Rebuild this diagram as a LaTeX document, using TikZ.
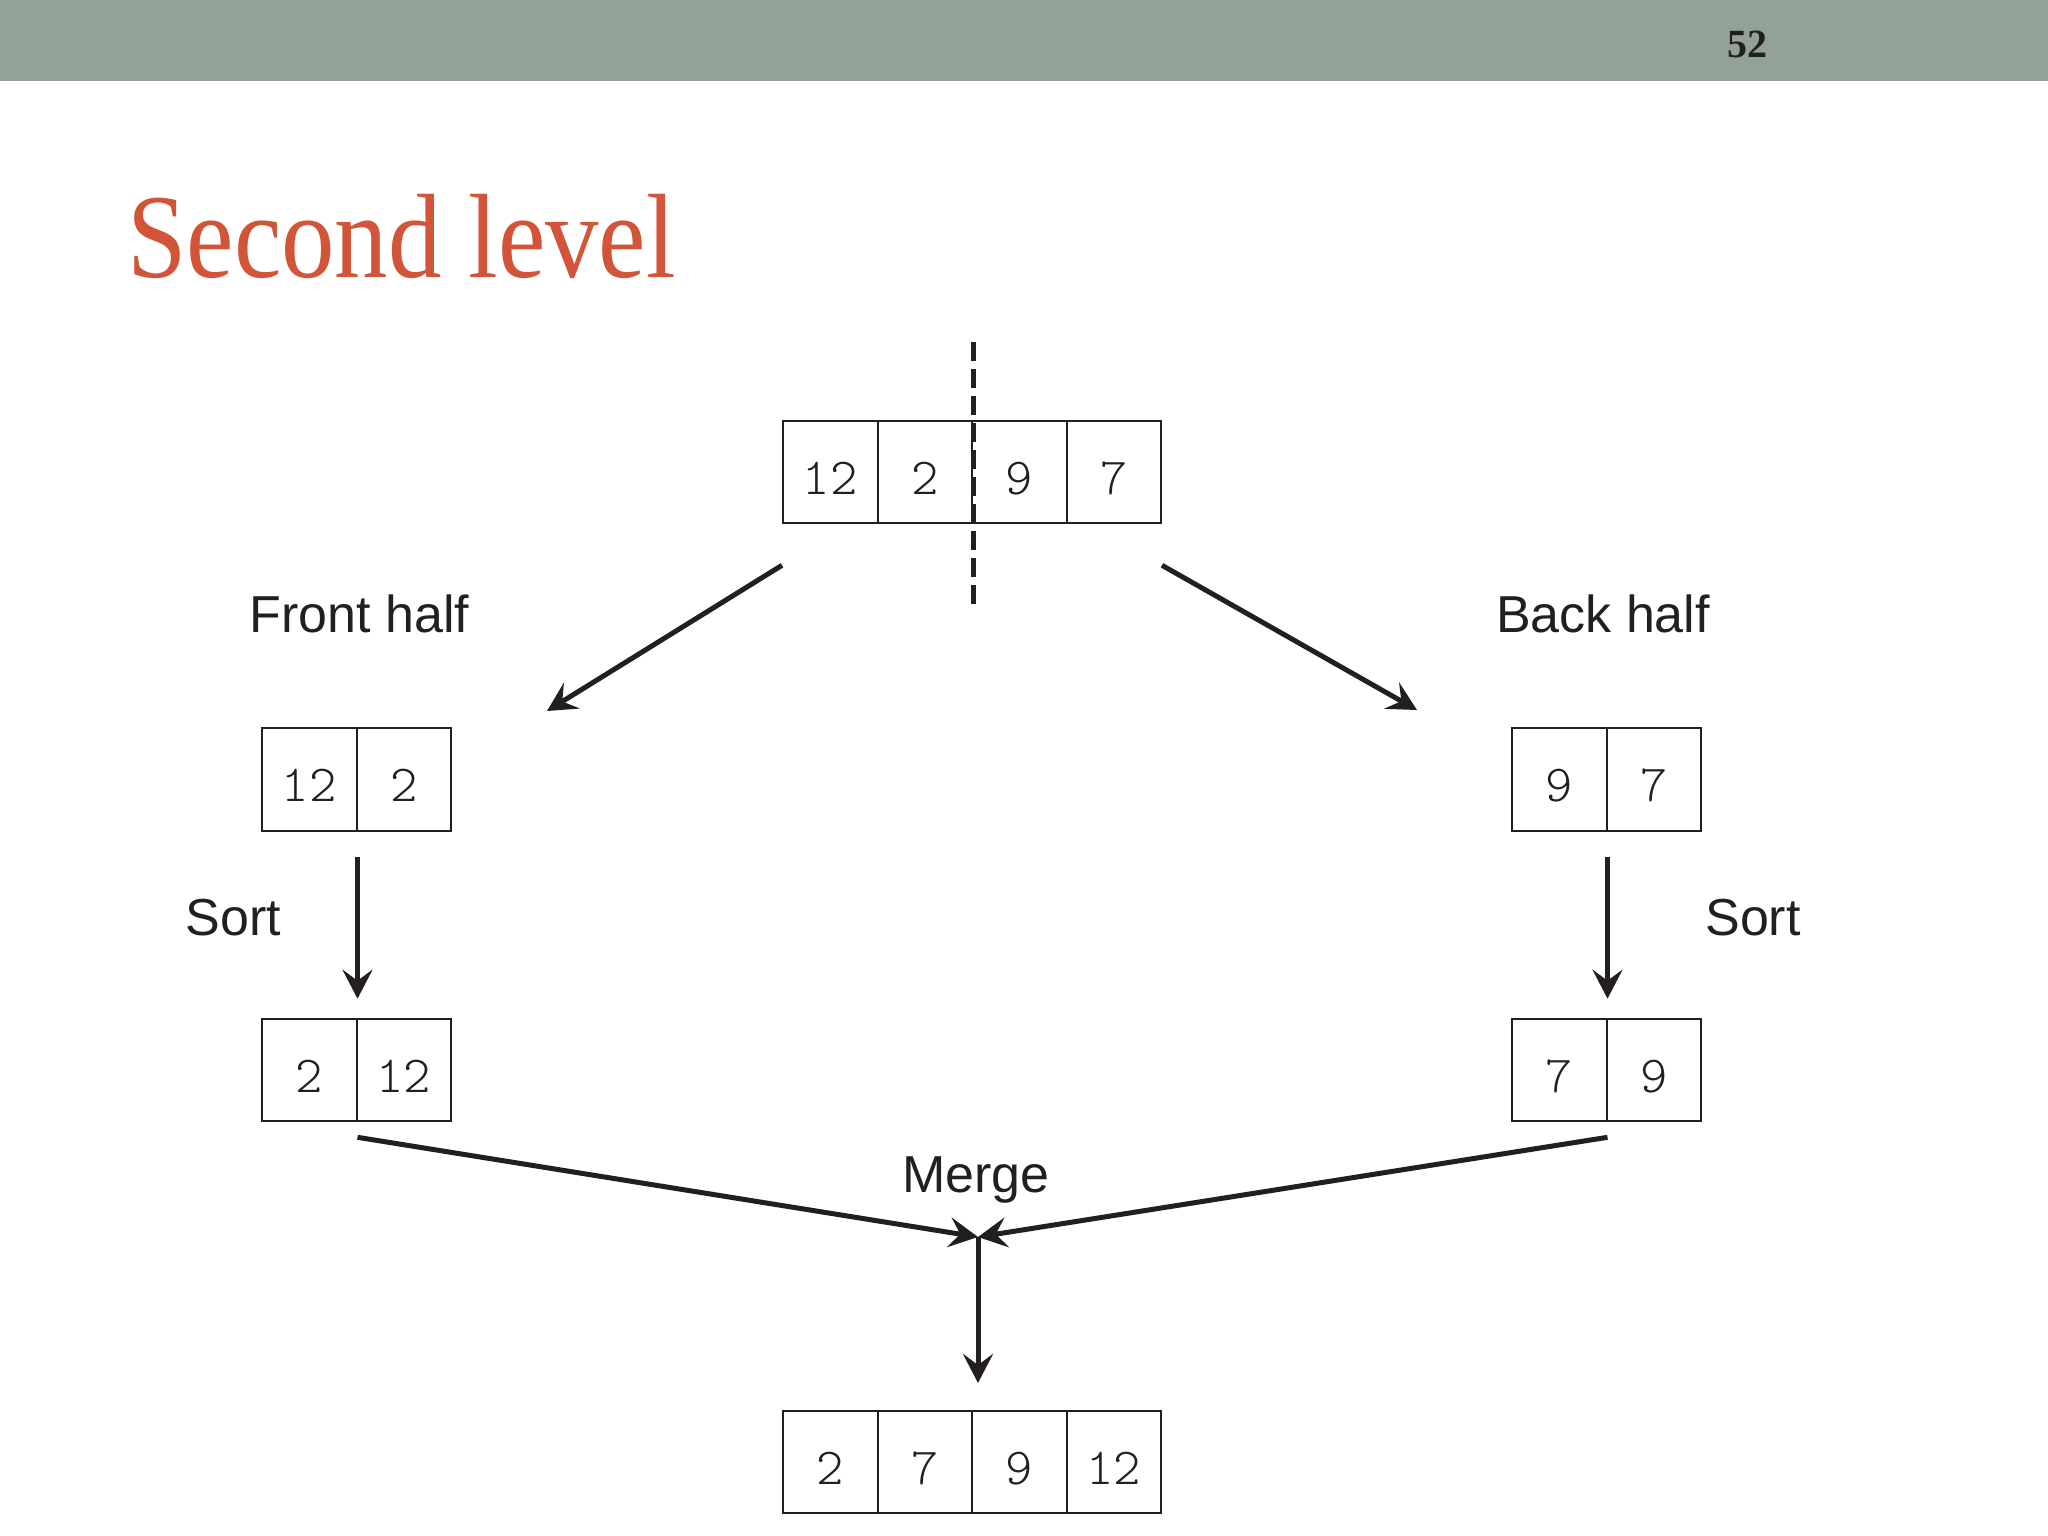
\documentclass[tikz,border=0pt]{standalone}
\usepackage{fontspec}
\setmainfont{Liberation Serif}
\newfontfamily\labelfont{Liberation Sans}
\newfontfamily\cellfont{Latin Modern Mono Light}
\usetikzlibrary{arrows.meta}
\definecolor{barcol}{HTML}{93A297}
\definecolor{titlecol}{HTML}{D2553A}
\definecolor{ink}{HTML}{231F20}
\begin{document}
\begin{tikzpicture}[x=1pt,y=-1pt,
  cell/.style={draw=ink, line width=2pt, minimum width=94.5pt, minimum height=102.6pt,
    inner sep=0pt, text height=44pt, text depth=0pt, text=ink,
    font=\cellfont\fontsize{52}{52}\selectfont},
  lbl/.style={anchor=base, text=ink, inner sep=0pt, font=\labelfont\fontsize{52}{60}\selectfont},
  arr/.style={draw=ink, line width=5pt, -{Stealth[length=29pt,width=30pt,inset=11pt]}},
  divider/.style={draw=ink, line width=5pt, dash pattern=on 19pt off 8pt}
]
\useasboundingbox (0,0) rectangle (2048,1536);
\fill[barcol] (0,0) rectangle (2048,81);
\node[text=ink, inner sep=0pt, font=\bfseries\fontsize{40}{40}\selectfont] (pg) at (1747,44) {52};
\node[anchor=base west, inner sep=0pt, text=titlecol, font=\fontsize{120}{120}\selectfont] (title) at (127,277) {\scalebox{0.89}[1]{Second level}};

% top array
\node[cell] (t1) at (830.25,472) {12};
\node[cell] (t2) at (924.75,472) {2};
\node[cell] (t3) at (1019.25,472) {9};
\node[cell] (t4) at (1113.75,472) {7};
% front half
\node[cell] (m1) at (309.25,779.7) {12};
\node[cell] (m2) at (403.75,779.7) {2};
\node[cell] (s1) at (309.25,1070) {2};
\node[cell] (s2) at (403.75,1070) {12};
% back half
\node[cell] (m3) at (1559.25,779.7) {9};
\node[cell] (m4) at (1653.75,779.7) {7};
\node[cell] (s3) at (1559.25,1070) {7};
\node[cell] (s4) at (1653.75,1070) {9};
% result
\node[cell] (b1) at (830.25,1462) {2};
\node[cell] (b2) at (924.75,1462) {7};
\node[cell] (b3) at (1019.25,1462) {9};
\node[cell] (b4) at (1113.75,1462) {12};

% divider
\coordinate (dtop) at (973,342);
\coordinate (dbot) at (973,605);
\draw[divider] (dtop) -- (dbot);

% labels
\node[lbl] (front) at (359.5,632) {Front half};
\node[lbl] (back) at (1603,632) {Back half};
\node[lbl] (sortl) at (233.5,935) {Sort};
\node[lbl] (sortr) at (1753,935) {Sort};
\node[lbl] (merge) at (976,1192) {Merge};

% connectors
\coordinate (l0) at ([yshift=-41pt]t1.south west);
\coordinate (l1) at (547,711);
\coordinate (r0) at ([yshift=-41pt]t4.south east);
\coordinate (r1) at (1417,710);
\draw[arr] (l0) -- (l1);
\draw[arr] (r0) -- (r1);

\coordinate (sl0) at ([yshift=-25pt]m1.south east);
\coordinate (sl1) at ([yshift=19pt]s1.north east);
\coordinate (sr0) at ([yshift=-25pt]m3.south east);
\coordinate (sr1) at ([yshift=19pt]s3.north east);
\draw[arr] (sl0) -- (sl1);
\draw[arr] (sr0) -- (sr1);

\coordinate (ml0) at ([yshift=-15pt]s1.south east);
\coordinate (mr0) at ([yshift=-15pt]s3.south east);
\coordinate (mj) at (978,1237);
\coordinate (mend) at (978,1383);
\draw[arr] (ml0) -- (mj);
\draw[arr] (mr0) -- (mj);
\draw[arr] (mj) -- (mend);
\end{tikzpicture}
\end{document}
